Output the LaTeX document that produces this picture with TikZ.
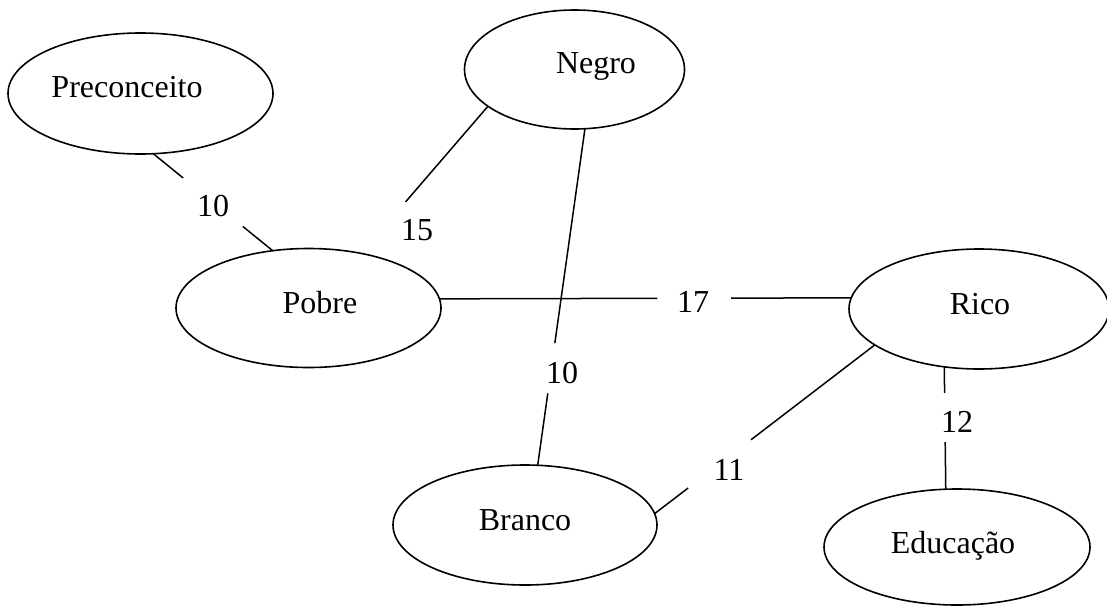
\documentclass[tikz,border=0pt]{standalone}
\usepackage{fontspec}
\setmainfont{Liberation Serif}
\usetikzlibrary{shapes.geometric,calc}
\tikzset{
  bubble/.style={draw, ellipse, inner sep=0pt, outer sep=0pt, line width=1.6pt},
  word/.style={font=\fontsize{32}{36}\selectfont, anchor=base, inner sep=0pt},
  link/.style={line width=1.5pt},
}
\begin{document}
\begin{tikzpicture}[x=1pt,y=-1pt]
\useasboundingbox (0,0) rectangle (1107,605);

% concepts
\node[bubble, minimum width=265pt, minimum height=121pt] (pre) at (140.5,93.5) {};
\node[bubble, minimum width=220pt, minimum height=119pt] (neg) at (574.5,69.5) {};
\node[bubble, minimum width=265pt, minimum height=119pt] (pob) at (308.5,308) {};
\node[bubble, minimum width=260pt, minimum height=120pt] (ric) at (979,309) {};
\node[bubble, minimum width=264pt, minimum height=120pt] (bra) at (525,525) {};
\node[bubble, minimum width=266pt, minimum height=116pt] (edu) at (957,547) {};

\node[word] (tpre) at (127,97) {Preconceito};
\node[word] (tneg) at (596,73) {Negro};
\node[word] (tpob) at (320,313) {Pobre};
\node[word] (tric) at (980,314) {Rico};
\node[word] (tbra) at (525,530) {Branco};
\node[word] (tedu) at (953,553) {Educação};

% weighted links, each broken around its weight
\draw[link] (pre.-78.3) -- ($(pre.-78.3)!0.25!(pob.122)$)
            ($(pre.-78.3)!0.75!(pob.122)$) -- (pob.122);
\node[word] (w1) at (213,216) {10};

\draw[link] (neg.203) -- ($(neg.203)!0.65!(pob.46)$);
\node[word] (w2) at (417,240) {15};

\draw[link] (neg.-80) -- ($(neg.-80)!0.637!(bra.78.5)$)
            ($(neg.-80)!0.786!(bra.78.5)$) -- (bra.78.5);
\node[word] (w3) at (562,383) {10};

\draw[link] (pob.4.38) -- ($(pob.4.38)!0.529!(ric.175.08)$)
            ($(pob.4.38)!0.708!(ric.175.08)$) -- (ric.175.08);
\node[word] (w4) at (693,312) {17};

\draw[link] (ric.199.55) -- ($(ric.199.55)!0.562!(bra.5.2)$)
            ($(ric.199.55)!0.848!(bra.5.2)$) -- (bra.5.2);
\node[word] (w5) at (729,480) {11};

\draw[link] (ric.239.6) -- ($(ric.239.6)!0.213!(edu.101.7)$)
            ($(ric.239.6)!0.615!(edu.101.7)$) -- (edu.101.7);
\node[word] (w6) at (957,432) {12};
\end{tikzpicture}
\end{document}
